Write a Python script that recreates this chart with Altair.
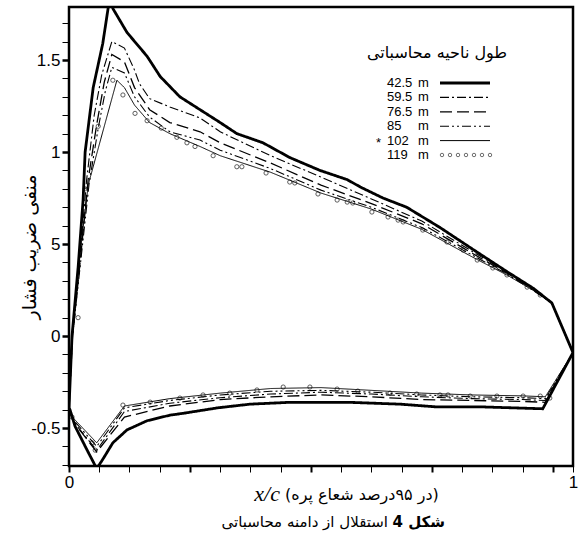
import altair as alt
import pandas as pd

# ---------------- data ----------------
SERIES = ["42.5", "59.5", "76.5", "85", "102", "119"]

# 42.5 m  (upper surface TE -> LE, then lower surface LE -> TE)
U42_x = [1.0, 0.958, 0.921, 0.869, 0.802, 0.736, 0.67, 0.623, 0.578, 0.552, 0.498, 0.438, 0.385, 0.333, 0.30,
         0.26, 0.22, 0.181, 0.155, 0.115, 0.087, 0.082, 0.067, 0.048, 0.032, 0.028, 0.018, 0.006, 0.0]
U42_y = [-0.09, 0.18, 0.26, 0.35, 0.47, 0.59, 0.70, 0.75, 0.81, 0.85, 0.90, 0.97, 1.05, 1.10, 1.16,
         1.23, 1.30, 1.41, 1.52, 1.65, 1.78, 1.86, 1.59, 1.35, 1.0, 0.74, 0.37, 0.0, -0.39]
L42_x = [0.0, 0.002, 0.012, 0.036, 0.055, 0.067, 0.087, 0.115, 0.155, 0.2, 0.226, 0.295, 0.359, 0.438,
         0.556, 0.657, 0.73, 0.821, 0.94, 1.0]
L42_y = [-0.39, -0.40, -0.49, -0.62, -0.72, -0.67, -0.58, -0.51, -0.46, -0.43, -0.42, -0.39, -0.37, -0.36,
         -0.36, -0.37, -0.385, -0.385, -0.395, -0.09]

# 59.5 m
U59_x = [1.0, 0.958, 0.92, 0.87, 0.8, 0.7, 0.6, 0.5, 0.4, 0.3, 0.26, 0.2, 0.16, 0.14, 0.13, 0.11, 0.085,
         0.065, 0.05, 0.035, 0.02, 0.006, 0.0]
U59_y = [-0.09, 0.18, 0.26, 0.345, 0.46, 0.625, 0.745, 0.864, 0.98, 1.11, 1.185, 1.245, 1.29, 1.37, 1.445,
         1.565, 1.60, 1.42, 1.2, 0.85, 0.38, 0.0, -0.40]
# 76.5 m
U76_x = [1.0, 0.958, 0.92, 0.87, 0.8, 0.7, 0.6, 0.5, 0.4, 0.3, 0.26, 0.2, 0.16, 0.13, 0.11, 0.085, 0.07,
         0.055, 0.038, 0.022, 0.007, 0.0]
U76_y = [-0.09, 0.18, 0.255, 0.34, 0.45, 0.61, 0.72, 0.82, 0.94, 1.05, 1.11, 1.16, 1.23, 1.35, 1.49, 1.53,
         1.38, 1.15, 0.85, 0.4, 0.0, -0.40]
# 85 m
U85_x = [1.0, 0.958, 0.92, 0.87, 0.8, 0.7, 0.6, 0.5, 0.4, 0.3, 0.26, 0.2, 0.16, 0.13, 0.11, 0.085, 0.072,
         0.058, 0.04, 0.023, 0.007, 0.0]
U85_y = [-0.09, 0.18, 0.25, 0.335, 0.44, 0.59, 0.70, 0.793, 0.91, 1.01, 1.065, 1.11, 1.19, 1.30, 1.43, 1.46,
         1.33, 1.13, 0.83, 0.4, 0.0, -0.40]
# 102 m
U102_x = [1.0, 0.958, 0.92, 0.87, 0.8, 0.7, 0.6, 0.5, 0.4, 0.3, 0.26, 0.2, 0.16, 0.13, 0.11, 0.095, 0.038,
          0.02, 0.006, 0.0]
U102_y = [-0.09, 0.18, 0.25, 0.33, 0.43, 0.58, 0.69, 0.777, 0.89, 0.98, 1.03, 1.10, 1.16, 1.255, 1.35, 1.39,
          0.82, 0.4, 0.0, -0.40]

L_x = [0.0, 0.01, 0.055, 0.11, 0.2, 0.3, 0.4, 0.5, 0.6, 0.7, 0.8, 0.9, 0.945, 1.0]
L59_y = [-0.40, -0.47, -0.62, -0.41, -0.365, -0.335, -0.315, -0.305, -0.315, -0.33, -0.34, -0.345, -0.35, -0.09]
L76_y = [-0.40, -0.47, -0.63, -0.44, -0.38, -0.345, -0.33, -0.32, -0.33, -0.345, -0.35, -0.355, -0.36, -0.09]
L85_y = [-0.40, -0.46, -0.60, -0.39, -0.35, -0.32, -0.30, -0.295, -0.305, -0.32, -0.33, -0.335, -0.34, -0.09]
L102_y = [-0.40, -0.45, -0.58, -0.38, -0.34, -0.31, -0.285, -0.28, -0.295, -0.31, -0.32, -0.325, -0.33, -0.09]

# 119 m (markers only)
C_up_x = [0.018, 0.032, 0.058, 0.087, 0.107, 0.131, 0.155, 0.183, 0.214, 0.234, 0.25, 0.286, 0.333, 0.343,
          0.391, 0.438, 0.448, 0.494, 0.532, 0.552, 0.563, 0.601, 0.633, 0.653, 0.663, 0.702, 0.75, 0.782,
          0.81, 0.841, 0.869, 0.909, 0.935]
C_up_y = [0.10, 0.80, 1.14, 1.39, 1.31, 1.21, 1.17, 1.13, 1.08, 1.05, 1.03, 0.98, 0.92, 0.92, 0.886, 0.837,
          0.832, 0.772, 0.739, 0.728, 0.723, 0.674, 0.647, 0.63, 0.62, 0.576, 0.511, 0.467, 0.413, 0.37,
          0.332, 0.266, 0.223]
C_lo_x = [0.006, 0.046, 0.052, 0.107, 0.161, 0.22, 0.266, 0.319, 0.373, 0.425, 0.478, 0.532, 0.573, 0.637,
          0.69, 0.736, 0.752, 0.796, 0.849, 0.901, 0.935, 0.954]
C_lo_y = [-0.44, -0.58, -0.62, -0.375, -0.359, -0.337, -0.32, -0.31, -0.293, -0.277, -0.277, -0.288, -0.299,
          -0.31, -0.315, -0.32, -0.32, -0.326, -0.326, -0.326, -0.326, -0.337]

LEGEND_TITLE = "طول ناحیه محاسباتی"
Y_TITLE = "منفی ضریب فشار"
X_TITLE_LATIN = "x/c"
X_TITLE_FA = "(در  ۹۵درصد شعاع پره)"
CAPTION_BOLD = "شکل 4"
CAPTION_REST = "استقلال از دامنه محاسباتی"

# ---------------- helpers ----------------
def path_df(ux, uy, lx, ly):
    xs = list(ux) + list(lx)
    ys = list(uy) + list(ly)
    return pd.DataFrame({"x": xs, "y": ys, "o": list(range(len(xs)))})

W, H = 504, 459
XTICKS = [round(0.06 * i, 2) for i in range(17)] + [1.0]
YTICKS = [round(-0.7 + 0.1 * i, 1) for i in range(25)]

x_axis = alt.Axis(
    values=XTICKS,
    labelExpr="datum.value == 0 ? '0' : (datum.value == 1 ? '1' : '')",
    tickSize=6, tickColor="black",
    tickWidth={"condition": {"test": "abs(datum.value/0.24 - round(datum.value/0.24)) < 0.01", "value": 2}, "value": 1},
    labelFontSize=17, labelFont="Liberation Sans", labelColor="black",
    labelPadding=2, labelFlush=False, labelOverlap=False,
    domain=False, grid=False, title=None,
)
y_axis = alt.Axis(
    values=YTICKS,
    labelExpr=("abs(datum.value-1.5)<0.01 ? '1.5' : abs(datum.value-1)<0.01 ? '1' : "
               "abs(datum.value-0.5)<0.01 ? '5' : abs(datum.value)<0.01 ? '0' : "
               "abs(datum.value+0.5)<0.01 ? '-0.5' : ''"),
    tickSize=7, tickColor="black",
    tickWidth={"condition": {"test": "abs(datum.value*2 - round(datum.value*2)) < 0.01", "value": 2.5}, "value": 1},
    labelFontSize=17, labelFont="Liberation Sans", labelColor="black",
    labelPadding=2, labelFlush=False, labelOverlap=False,
    domain=False, grid=False, title=None,
)
xs = alt.Scale(domain=[0, 1], nice=False, zero=False)
ys = alt.Scale(domain=[-0.706, 1.788], nice=False, zero=False)
X = alt.X("x:Q", scale=xs, axis=x_axis)
Y = alt.Y("y:Q", scale=ys, axis=y_axis)

styles = {
    "42.5": dict(strokeWidth=2.8, strokeDash=[1, 0]),
    "59.5": dict(strokeWidth=1.1, strokeDash=[9, 3, 2, 3]),
    "76.5": dict(strokeWidth=1.3, strokeDash=[12, 5]),
    "85": dict(strokeWidth=1.1, strokeDash=[9, 3, 2, 3, 2, 3]),
    "102": dict(strokeWidth=1.0, strokeDash=[1, 0]),
}
paths = {
    "42.5": path_df(U42_x, U42_y, L42_x, L42_y),
    "59.5": path_df(U59_x, U59_y, L_x, L59_y),
    "76.5": path_df(U76_x, U76_y, L_x, L76_y),
    "85": path_df(U85_x, U85_y, L_x, L85_y),
    "102": path_df(U102_x, U102_y, L_x, L102_y),
}

layers = []
for name in ["102", "85", "76.5", "59.5", "42.5"]:
    st = styles[name]
    layers.append(
        alt.Chart(paths[name]).mark_line(color="black", clip=True, **st)
        .encode(x=X, y=Y, order="o:Q")
    )

circ = pd.DataFrame({"x": C_up_x + C_lo_x, "y": C_up_y + C_lo_y})
layers.append(
    alt.Chart(circ).mark_point(shape="circle", filled=False, color="black", size=18, strokeWidth=0.9, clip=True)
    .encode(x=X, y=Y)
)

# ---------------- legend (drawn inside the plot) ----------------
row_y = [76 + 14.4 * i for i in range(len(SERIES))]
leg = pd.DataFrame({"num": SERIES, "py": row_y, "m": ["m"] * len(SERIES)})
LFS = 13
layers.append(
    alt.Chart(leg).mark_text(align="left", baseline="middle", fontSize=LFS, font="Liberation Sans", color="black")
    .encode(x=alt.value(318), y=alt.Y("py:Q", scale=None), text="num:N")
)
layers.append(
    alt.Chart(leg).mark_text(align="left", baseline="middle", fontSize=LFS, font="Liberation Sans", color="black")
    .encode(x=alt.value(349), y=alt.Y("py:Q", scale=None), text="m:N")
)
star = pd.DataFrame({"t": ["*"], "py": [row_y[4] + 2]})
layers.append(
    alt.Chart(star).mark_text(align="left", baseline="middle", fontSize=LFS, font="Liberation Sans", color="black")
    .encode(x=alt.value(307), y=alt.Y("py:Q", scale=None), text="t:N")
)
for i, name in enumerate(SERIES[:5]):
    st = styles[name]
    d = pd.DataFrame({"py": [row_y[i]]})
    layers.append(
        alt.Chart(d).mark_rule(color="black", **st)
        .encode(x=alt.value(371), x2=alt.value(421), y=alt.Y("py:Q", scale=None))
    )
cs = pd.DataFrame({"px": [373 + 8 * k for k in range(7)], "py": [row_y[5]] * 7})
layers.append(
    alt.Chart(cs).mark_point(shape="circle", filled=False, color="black", size=12, strokeWidth=0.8)
    .encode(x=alt.X("px:Q", scale=None), y=alt.Y("py:Q", scale=None))
)
lt = pd.DataFrame({"t": [LEGEND_TITLE]})
layers.append(
    alt.Chart(lt).mark_text(align="center", baseline="middle", fontSize=16, font="DejaVu Sans", color="black")
    .encode(x=alt.value(368), y=alt.value(46), text="t:N")
)

# ---------------- titles / caption ----------------
yt = pd.DataFrame({"t": [Y_TITLE]})
layers.append(
    alt.Chart(yt).mark_text(align="center", baseline="middle", angle=270, fontSize=19, font="DejaVu Sans", color="black")
    .encode(x=alt.value(-39), y=alt.value(240), text="t:N")
)
xl = pd.DataFrame({"t": [X_TITLE_LATIN]})
layers.append(
    alt.Chart(xl).mark_text(align="right", baseline="middle", fontSize=22, font="Liberation Serif",
                            fontStyle="italic", color="black")
    .encode(x=alt.value(211), y=alt.value(487), text="t:N")
)
xf = pd.DataFrame({"t": [X_TITLE_FA]})
layers.append(
    alt.Chart(xf).mark_text(align="left", baseline="middle", fontSize=16, font="DejaVu Sans", color="black")
    .encode(x=alt.value(216), y=alt.value(488), text="t:N")
)
cb = pd.DataFrame({"t": [CAPTION_BOLD]})
layers.append(
    alt.Chart(cb).mark_text(align="right", baseline="middle", fontSize=15, font="DejaVu Sans",
                            fontWeight="bold", color="black")
    .encode(x=alt.value(376), y=alt.value(515), text="t:N")
)
cr = pd.DataFrame({"t": [CAPTION_REST]})
layers.append(
    alt.Chart(cr).mark_text(align="right", baseline="middle", fontSize=15, font="DejaVu Sans", color="black")
    .encode(x=alt.value(319), y=alt.value(515), text="t:N")
)

chart = (
    alt.layer(*layers)
    .resolve_scale(x="shared", y="shared")
    .properties(width=W, height=H, autosize=alt.AutoSizeParams(type="none"),
                padding={"left": 69, "top": 7, "right": 6, "bottom": 77}, background="white")
    .configure_view(stroke="black", strokeWidth=2.5)
)

chart.save("out.html", embed_options={"renderer": "svg", "actions": False})
